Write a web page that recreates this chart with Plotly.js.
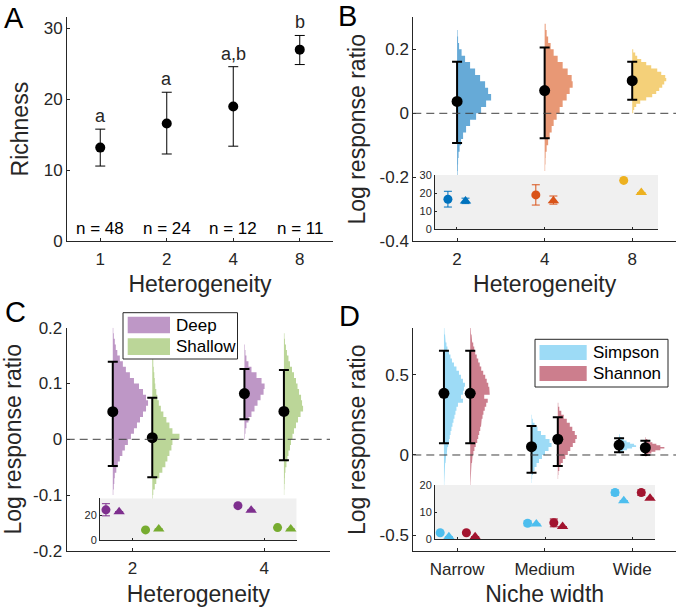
<!DOCTYPE html>
<html><head><meta charset="utf-8">
<script src="https://cdn.plot.ly/plotly-3.0.1.min.js"></script>
<style>html,body{margin:0;padding:0;background:#fff}#chart{width:677px;height:610px}</style>
</head><body><div id="chart"></div>
<script>
// ================= DATA =================
// Panel A: richness by heterogeneity
const heteroA = ['1', '2', '4', '8'];
const richMean = [13.2, 16.6, 19.0, 27.0];
const richLow = [10.6, 12.3, 13.4, 24.9];
const richHigh = [15.8, 21.0, 24.6, 29.0];
const sigLetters = ['a', 'a', 'a,b', 'b'];
const sampleSizes = ['n = 48', 'n = 24', 'n = 12', 'n = 11'];

// Panel B: log response ratio by heterogeneity
const heteroB = ['2', '4', '8'];
const lrrB = [0.037, 0.071, 0.102];
const lrrBLow = [-0.093, -0.078, 0.042];
const lrrBHigh = [0.161, 0.206, 0.161];
// posterior histograms (first bin centre, bin step, relative counts)
const postB2First = -0.19, postB2Step = 0.02;
const postB2 = [0.5, 0.8, 1, 1.5, 2.5, 4, 6, 9, 13, 19, 24, 29, 34, 31, 28, 23, 18, 13, 8, 4.5, 2, 1, 0.5];
const postB4First = -0.17, postB4Step = 0.02;
const postB4 = [0.5, 0.8, 1, 2, 3.5, 5, 7, 9, 12, 15, 18, 22, 25, 28, 27, 23, 18, 13, 9, 6, 3.5, 2, 1];
const postB8First = 0.005, postB8Step = 0.01;
const postB8 = [1, 2, 4, 8, 14, 20, 24, 27, 30, 32, 34, 33, 29, 25, 19, 14, 9, 5, 3, 1];
// inset B: richness (circles, triangles)
const insetBCircle = [16.6, 19.0, 27.0];
const insetBCircleLow = [12.3, 13.4, 27.0];
const insetBCircleHigh = [21.0, 24.6, 27.0];
const insetBTri = [15.6, 15.8, 20.3];
const insetBTriLow = [14.2, 13.9, 20.3];
const insetBTriHigh = [17.2, 18.4, 20.3];

// Panel C: deep vs shallow
const heteroC = ['2', '4'];
const seriesC = ['Deep', 'Shallow'];
const lrrDeep = [0.0495, 0.082];
const lrrDeepLow = [-0.048, 0.036];
const lrrDeepHigh = [0.139, 0.126];
const lrrShallow = [0.003, 0.05];
const lrrShallowLow = [-0.068, -0.0375];
const lrrShallowHigh = [0.0745, 0.124];
const postCDeep2First = -0.095, postCDeep2 = [0.5, 1, 1.5, 2, 3.5, 5, 7, 9.5, 12, 15, 18, 21, 24, 27, 30, 33, 35, 33, 30, 26, 21, 17, 13, 10, 7, 4.5, 3, 2, 1, 0.5];
const postCShal2First = -0.105, postCShal2 = [0.5, 1, 2.5, 4, 7, 10, 13, 15, 17, 19, 20, 27, 20, 17, 14, 11, 8.5, 6.5, 5, 4, 3, 2.5, 2, 1.5, 1, 1, 0.8, 0.5, 0.3];
const postCDeep4First = 0.005, postCDeep4 = [0.5, 1, 2, 4, 7, 10, 13, 16, 19, 20, 17, 12, 7, 4, 2, 1, 0.5];
const postCShal4First = -0.095, postCShal4 = [0.3, 0.5, 0.8, 1, 1.5, 2.5, 3.5, 4.5, 6, 7, 8.5, 10, 12, 14, 16.5, 19, 18, 17, 15, 13.5, 12, 10, 8, 6, 4.5, 3, 2, 1, 0.5];
const postCStep = 0.01;
// inset C
const insetDeepCircle = [24.6, 28.0];
const insetDeepCircleLow = [19.7, 28.0];
const insetDeepCircleHigh = [29.6, 28.0];
const insetDeepTri = [23.0, 24.3];
const insetShalCircle = [8.2, 10.1];
const insetShalTri = [8.9, 8.9];

// Panel D: niche width, Simpson vs Shannon
const nicheLabels = ['Narrow', 'Medium', 'Wide'];
const seriesD = ['Simpson', 'Shannon'];
const lrrSimpson = [0.384, 0.052, 0.062];
const lrrSimpsonLow = [0.073, -0.11, 0.017];
const lrrSimpsonHigh = [0.649, 0.18, 0.104];
const lrrShannon = [0.384, 0.098, 0.045];
const lrrShannonLow = [0.073, -0.068, 0.0];
const lrrShannonHigh = [0.649, 0.235, 0.089];
const postDSimN = [0.3, 0.4, 0.5, 0.7, 0.9, 1.2, 1.6, 2.2, 2.8, 3.4, 4.2, 5, 5.8, 6.6, 7.5, 8.5, 9.5, 10.5, 11.5, 12.5, 14, 19, 17, 19, 20, 21, 19, 17, 15, 12.5, 10, 8, 6.5, 5, 3.5, 2.5, 1.7, 1.1, 0.6, 0.3];
const postDSimNFirst = -0.1875;
const postDShaN = [0.3, 0.4, 0.5, 0.7, 1, 1.3, 1.8, 2.4, 3.2, 4.2, 5.5, 7, 8, 9, 10, 10.8, 11.5, 12.3, 13.2, 14.5, 16, 17.5, 14, 19.5, 19, 18, 16.5, 15, 13, 11, 9.5, 8, 6.5, 5, 4, 3, 2, 1.3, 0.8, 0.4];
const postDShaNFirst = -0.1875;
const postDSimM = [0.3, 0.6, 1.5, 3, 5, 7.5, 10.5, 13.5, 17, 20, 18, 14, 9.5, 6, 3, 1.2, 0.4];
const postDSimMFirst = -0.1625;
const postDShaM = [0.3, 0.6, 1.5, 3, 5, 7.5, 10, 12.5, 15, 17.5, 19, 17, 14.5, 12, 9, 6, 3.5, 1.5, 0.5];
const postDShaMFirst = -0.1375;
const postDWideStep = 0.01, postDStep = 0.025;
const postDSimW = [1, 4, 8, 13, 17, 15, 11, 7.5, 4.5, 2.5, 1, 0.5];
const postDSimWFirst = 0.015;
const postDShaW = [1, 3, 6, 10, 15, 19, 15, 11, 7, 4, 2, 0.5];
const postDShaWFirst = -0.005;
// inset D
const insetSimCircle = [2.4, 5.9, 17.2];
const insetSimCircleLow = [2.4, 5.0, 16.2];
const insetSimCircleHigh = [2.4, 6.8, 18.2];
const insetSimTri = [0.9, 5.6, 14.2];
const insetShaCircle = [2.4, 6.1, 17.2];
const insetShaCircleLow = [2.4, 4.6, 16.2];
const insetShaCircleHigh = [2.4, 7.5, 18.2];
const insetShaTri = [0.9, 4.7, 15.1];

// ================= STYLE =================
const FONT = 'Liberation Sans, Arial, Helvetica, sans-serif';
const INK = '#262626';
const W = 677, H = 610;
const px = v => v / W, py = v => 1 - v / H;
const C_BLUE = '#0072BD', C_ORANGE = '#D95319', C_YELLOW = '#EDB120',
      C_PURPLE = '#7E2F8E', C_GREEN = '#77AC30', C_LBLUE = '#4DBEEE', C_RED = '#A2142F';
const H_BLUE = '#66AAD7', H_ORANGE = '#E89875', H_YELLOW = '#F4D079',
      H_PURPLE = '#BE97C6', H_GREEN = '#BBD698', H_LBLUE = '#9DDBF6', H_RED = '#CC7E8D';
const scaleBD = 1 / 87.5, scaleC = 1 / 130.6;

const traces = [], shapes = [], annotations = [];

// half-violin histogram drawn as a filled step outline
function hist(counts, first, step, pos, scale, color, xa, ya) {
  const xs = [pos], ys = [first - step / 2];
  counts.forEach((c, i) => {
    const lo = first + (i - 0.5) * step, hi = first + (i + 0.5) * step;
    xs.push(pos + c * scale, pos + c * scale);
    ys.push(lo, hi);
  });
  xs.push(pos); ys.push(first + (counts.length - 0.5) * step);
  traces.push({
    type: 'scatter', mode: 'lines', xaxis: xa, yaxis: ya, x: xs, y: ys,
    fill: 'toself', fillcolor: color, line: {width: 0, color: color},
    hoverinfo: 'skip', showlegend: false
  });
}
function pts(xs, mean, low, high, xa, ya, o) {
  traces.push({
    type: 'scatter', mode: 'markers', xaxis: xa, yaxis: ya, cliponaxis: false,
    x: xs, y: mean, name: o.name || '',
    error_y: {type: 'data', symmetric: false,
      array: high.map((h, i) => h - mean[i]), arrayminus: mean.map((m, i) => m - low[i]),
      color: o.color, thickness: o.th, width: o.cap},
    marker: {symbol: o.symbol, size: o.size, color: o.color},
    hoverinfo: 'skip', showlegend: false
  });
}
const idx = arr => arr.map((_, i) => i + 1);
const shift = (arr, d) => arr.map((_, i) => i + 1 + d);

// ---- Panel A
pts(idx(heteroA), richMean, richLow, richHigh, 'x', 'y', {color: '#000', th: 1, cap: 5, symbol: 'circle', size: 10});
heteroA.forEach((_, i) => {
  annotations.push({xref: 'x', yref: 'y', x: i + 1, y: richHigh[i], yanchor: 'bottom', yshift: 1, text: sigLetters[i], showarrow: false, font: {family: FONT, size: 18, color: INK}});
  annotations.push({xref: 'x', yref: 'y', x: i + 1, y: 0, yanchor: 'bottom', yshift: 1, text: sampleSizes[i], showarrow: false, font: {family: FONT, size: 17, color: '#000'}});
});

// ---- Panel B
hist(postB2, postB2First, postB2Step, 1, scaleBD, H_BLUE, 'x2', 'y2');
hist(postB4, postB4First, postB4Step, 2, scaleBD, H_ORANGE, 'x2', 'y2');
hist(postB8, postB8First, postB8Step, 3, scaleBD, H_YELLOW, 'x2', 'y2');
pts(idx(heteroB), lrrB, lrrBLow, lrrBHigh, 'x2', 'y2', {color: '#000', th: 2, cap: 5, symbol: 'circle', size: 11});
const insetBColors = [C_BLUE, C_ORANGE, C_YELLOW];
heteroB.forEach((_, i) => {
  pts([i + 0.9], [insetBCircle[i]], [insetBCircleLow[i]], [insetBCircleHigh[i]], 'x3', 'y3', {color: insetBColors[i], th: 1, cap: 4, symbol: 'circle', size: 9});
  pts([i + 1.1], [insetBTri[i]], [insetBTriLow[i]], [insetBTriHigh[i]], 'x3', 'y3', {color: insetBColors[i], th: 1, cap: 4, symbol: 'triangle-up', size: 10});
});

// ---- Panel C
hist(postCDeep2, postCDeep2First, postCStep, 0.85, scaleC, H_PURPLE, 'x4', 'y4');
hist(postCShal2, postCShal2First, postCStep, 1.15, scaleC, H_GREEN, 'x4', 'y4');
hist(postCDeep4, postCDeep4First, postCStep, 1.85, scaleC, H_PURPLE, 'x4', 'y4');
hist(postCShal4, postCShal4First, postCStep, 2.15, scaleC, H_GREEN, 'x4', 'y4');
pts(shift(heteroC, -0.15), lrrDeep, lrrDeepLow, lrrDeepHigh, 'x4', 'y4', {name: seriesC[0], color: '#000', th: 2, cap: 5, symbol: 'circle', size: 11});
pts(shift(heteroC, 0.15), lrrShallow, lrrShallowLow, lrrShallowHigh, 'x4', 'y4', {name: seriesC[1], color: '#000', th: 2, cap: 5, symbol: 'circle', size: 11});
pts(shift(heteroC, -0.2), insetDeepCircle, insetDeepCircleLow, insetDeepCircleHigh, 'x5', 'y5', {color: C_PURPLE, th: 1, cap: 4, symbol: 'circle', size: 9});
pts(shift(heteroC, -0.1), insetDeepTri, insetDeepTri, insetDeepTri, 'x5', 'y5', {color: C_PURPLE, th: 1, cap: 4, symbol: 'triangle-up', size: 10});
pts(shift(heteroC, 0.1), insetShalCircle, insetShalCircle, insetShalCircle, 'x5', 'y5', {color: C_GREEN, th: 1, cap: 4, symbol: 'circle', size: 9});
pts(shift(heteroC, 0.2), insetShalTri, insetShalTri, insetShalTri, 'x5', 'y5', {color: C_GREEN, th: 1, cap: 4, symbol: 'triangle-up', size: 10});

// ---- Panel D
hist(postDSimN, postDSimNFirst, postDStep, 0.85, scaleBD, H_LBLUE, 'x6', 'y6');
hist(postDShaN, postDShaNFirst, postDStep, 1.15, scaleBD, H_RED, 'x6', 'y6');
hist(postDSimM, postDSimMFirst, postDStep, 1.85, scaleBD, H_LBLUE, 'x6', 'y6');
hist(postDShaM, postDShaMFirst, postDStep, 2.15, scaleBD, H_RED, 'x6', 'y6');
hist(postDSimW, postDSimWFirst, postDWideStep, 2.85, scaleBD, H_LBLUE, 'x6', 'y6');
hist(postDShaW, postDShaWFirst, postDWideStep, 3.15, scaleBD, H_RED, 'x6', 'y6');
pts(shift(nicheLabels, -0.15), lrrSimpson, lrrSimpsonLow, lrrSimpsonHigh, 'x6', 'y6', {name: seriesD[0], color: '#000', th: 2, cap: 5, symbol: 'circle', size: 11});
pts(shift(nicheLabels, 0.15), lrrShannon, lrrShannonLow, lrrShannonHigh, 'x6', 'y6', {name: seriesD[1], color: '#000', th: 2, cap: 5, symbol: 'circle', size: 11});
pts(shift(nicheLabels, -0.2), insetSimCircle, insetSimCircleLow, insetSimCircleHigh, 'x7', 'y7', {color: C_LBLUE, th: 1, cap: 4, symbol: 'circle', size: 9});
pts(shift(nicheLabels, -0.1), insetSimTri, insetSimTri, insetSimTri, 'x7', 'y7', {color: C_LBLUE, th: 1, cap: 4, symbol: 'triangle-up', size: 10});
pts(shift(nicheLabels, 0.1), insetShaCircle, insetShaCircleLow, insetShaCircleHigh, 'x7', 'y7', {color: C_RED, th: 1, cap: 4, symbol: 'circle', size: 9});
pts(shift(nicheLabels, 0.2), insetShaTri, insetShaTri, insetShaTri, 'x7', 'y7', {color: C_RED, th: 1, cap: 4, symbol: 'triangle-up', size: 10});

// ================= AXES =================
const base = {
  type: 'linear', showline: true, linecolor: INK, linewidth: 1, ticks: 'inside', ticklen: 3,
  tickcolor: INK, showgrid: false, zeroline: false, fixedrange: true,
  tickfont: {family: FONT, size: 17, color: INK}
};
const inset = Object.assign({}, base, {ticklen: 2, tickfont: {family: FONT, size: 11, color: INK}});
const ttl = (t, so) => ({text: t, standoff: so, font: {family: FONT, size: 23, color: INK}});

const layout = {
  width: W, height: H, margin: {l: 0, r: 0, t: 0, b: 0},
  paper_bgcolor: '#fff', plot_bgcolor: 'rgba(0,0,0,0)', showlegend: false,
  font: {family: FONT, color: INK},
  xaxis: Object.assign({}, base, {domain: [px(67), px(333)], range: [0.5, 4.5], anchor: 'y', tickvals: idx(heteroA), ticktext: heteroA, ticklabelstandoff: 2, title: ttl('Heterogeneity', 8)}),
  yaxis: Object.assign({}, base, {domain: [py(241.3), py(17)], range: [0, 31.6], anchor: 'x', tickvals: [0, 10, 20, 30], title: ttl('Richness', 8)}),
  xaxis2: Object.assign({}, base, {domain: [px(413.3), px(676)], range: [0.5, 3.5], anchor: 'y2', tickvals: idx(heteroB), ticktext: heteroB, ticklabelstandoff: 2, title: ttl('Heterogeneity', 8)}),
  yaxis2: Object.assign({}, base, {domain: [py(241.3), py(17.3)], range: [-0.4, 0.3], anchor: 'x2', tickvals: [-0.4, -0.2, 0, 0.2], ticktext: ['-0.4', '-0.2', '0', '0.2'], title: ttl('Log response ratio', 7)}),
  xaxis3: Object.assign({}, inset, {domain: [px(435), px(658)], range: [0.753, 3.29], anchor: 'y3', tickvals: idx(heteroB), showticklabels: false}),
  yaxis3: Object.assign({}, inset, {domain: [py(229.3), py(175)], range: [0, 30], anchor: 'x3', tickvals: [0, 10, 20, 30]}),
  xaxis4: Object.assign({}, base, {domain: [px(66.7), px(330)], range: [0.5, 2.5], anchor: 'y4', tickvals: idx(heteroC), ticktext: heteroC, ticklabelstandoff: 2, title: ttl('Heterogeneity', 8)}),
  yaxis4: Object.assign({}, base, {domain: [py(550.9), py(327.7)], range: [-0.2, 0.2], anchor: 'x4', tickvals: [-0.2, -0.1, 0, 0.1, 0.2], ticktext: ['-0.2', '-0.1', '0', '0.1', '0.2'], title: ttl('Log response ratio', 7)}),
  xaxis5: Object.assign({}, inset, {domain: [px(100), px(296.7)], range: [0.755, 2.245], anchor: 'y5', tickvals: idx(heteroC), showticklabels: false}),
  yaxis5: Object.assign({}, inset, {domain: [py(540), py(498.3)], range: [0, 34], anchor: 'x5', tickvals: [0, 20]}),
  xaxis6: Object.assign({}, base, {domain: [px(413.3), px(676)], range: [0.5, 3.5], anchor: 'y6', tickvals: idx(nicheLabels), ticktext: nicheLabels, ticklabelstandoff: 2, title: ttl('Niche width', 8)}),
  yaxis6: Object.assign({}, base, {domain: [py(551.4), py(328.05)], range: [-0.6, 0.79], anchor: 'x6', tickvals: [-0.5, 0, 0.5], ticktext: ['-0.5', '0', '0.5'], title: ttl('Log response ratio', 7)}),
  xaxis7: Object.assign({}, inset, {domain: [px(435), px(655)], range: [0.741, 3.257], anchor: 'y7', tickvals: idx(nicheLabels), showticklabels: false}),
  yaxis7: Object.assign({}, inset, {domain: [py(539.3), py(485)], range: [0, 20], anchor: 'x7', tickvals: [0, 10, 20]}),
  shapes: shapes, annotations: annotations
};

// zero reference lines
[['x2', 'y2'], ['x4', 'y4'], ['x6', 'y6']].forEach(([xa, ya]) => {
  shapes.push({type: 'line', xref: xa + ' domain', yref: ya, x0: 0, x1: 1, y0: 0, y1: 0, layer: 'above', line: {color: '#404040', width: 1, dash: '8px,5px'}});
});
// inset backgrounds
[['x3', 'y3'], ['x5', 'y5'], ['x7', 'y7']].forEach(([xa, ya]) => {
  const xr = layout[xa.replace('x', 'xaxis')].range, yr = layout[ya.replace('y', 'yaxis')].range;
  shapes.push({type: 'rect', xref: xa, yref: ya, x0: xr[0], x1: xr[1], y0: yr[0], y1: yr[1], layer: 'below', fillcolor: '#F0F0F0', line: {width: 0}});
});

// manual legends (wide colour patches like the original)
function legend(box, patchX, rows, names, colors) {
  shapes.push({type: 'rect', xref: 'paper', yref: 'paper', x0: px(box[0]), x1: px(box[1]), y0: py(box[3]), y1: py(box[2]), fillcolor: '#fff', line: {color: INK, width: 1}, layer: 'above'});
  names.forEach((n, i) => {
    shapes.push({type: 'rect', xref: 'paper', yref: 'paper', x0: px(patchX[0]), x1: px(patchX[1]), y0: py(rows[i][1]), y1: py(rows[i][0]), fillcolor: colors[i], line: {width: 0}, layer: 'above'});
    annotations.push({xref: 'paper', yref: 'paper', x: px(patchX[1] + 4), y: py((rows[i][0] + rows[i][1]) / 2), xanchor: 'left', yanchor: 'middle', text: n, showarrow: false, font: {family: FONT, size: 17, color: '#000'}});
  });
}
legend([123, 237.5, 312.7, 359], [127.7, 170], [[316.7, 333.3], [338.3, 355]], seriesC, [H_PURPLE, H_GREEN]);
legend([535, 668, 339.3, 387], [539.5, 586.7], [[345, 360], [366, 381]], seriesD, [H_LBLUE, H_RED]);

// panel letters
[['A', 14, 18], ['B', 347, 16], ['C', 15, 312], ['D', 349, 316]].forEach(([t, x, y]) => {
  annotations.push({xref: 'paper', yref: 'paper', x: px(x), y: py(y), xanchor: 'center', yanchor: 'middle', text: t, showarrow: false, font: {family: FONT, size: 29, color: '#000'}});
});

Plotly.newPlot('chart', traces, layout, {staticPlot: true, displayModeBar: false});
</script>
</body></html>
